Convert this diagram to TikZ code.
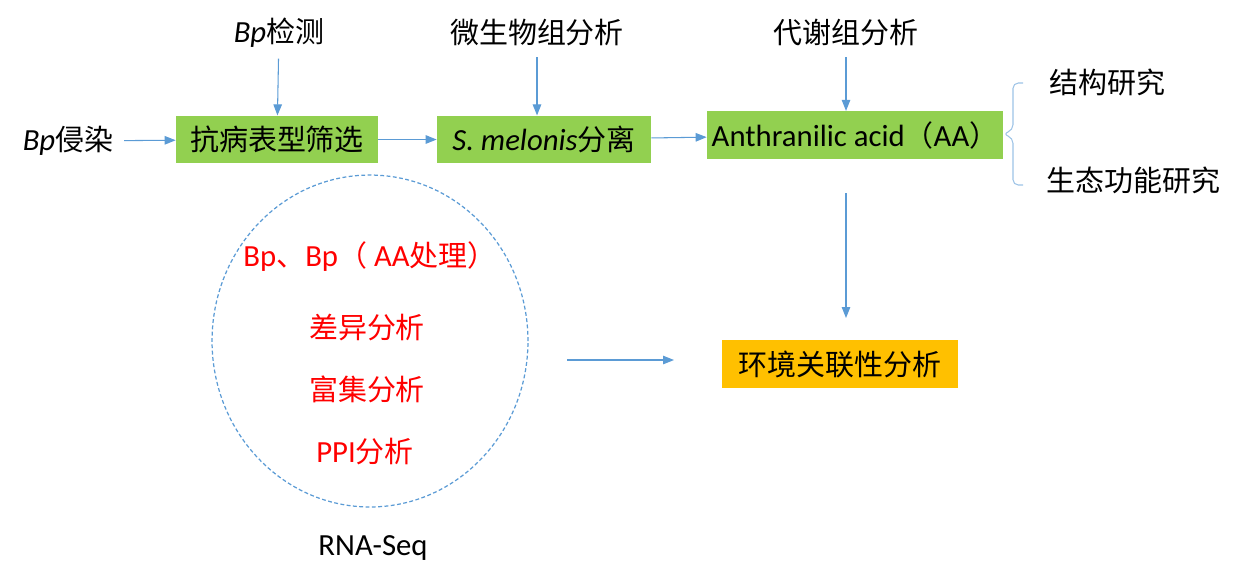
\documentclass[tikz,border=0pt]{standalone}
\usepackage{fontspec}
\setmainfont{Carlito}[Scale=1.06]
\newfontfamily\cjk{Noto Sans CJK SC}
\newcommand{\zh}[1]{{\cjk #1}}
\usepackage{tikz}
\usetikzlibrary{arrows.meta,shapes.geometric}
\definecolor{boxgreen}{HTML}{92D050}
\definecolor{boxorange}{HTML}{FFC000}
\definecolor{flowblue}{HTML}{5B9BD5}
\definecolor{bracblue}{HTML}{9DC3E6}

\begin{document}
\begin{tikzpicture}[
  x=0.02cm, y=-0.02cm,
  every node/.style={font=\fontsize{16.5}{19}\selectfont},
  proc/.style={fill=boxgreen, minimum height=0.95cm, inner sep=2pt},
  res/.style={fill=boxorange, minimum height=0.96cm, inner sep=2pt},
  lab/.style={inner sep=6pt},
  note/.style={text=red},
  flow/.style={draw=flowblue, line width=0.6pt},
  >={Triangle[length=2.2mm,width=1.7mm]}
]
\useasboundingbox (0,0) rectangle (1244,583);

% main row
\node[lab] (inf) at (68,141) {\textit{Bp}\zh{侵染}};
\node[proc, minimum width=4.04cm] (scr) at (277,139.5) {\zh{抗病表型筛选}};
\node[proc, minimum width=4.28cm] (iso) at (544,139.5) {\textit{S. melonis}\zh{分离}};
\node[proc, minimum width=5.92cm] (aa) at (855,135) {Anthranilic acid\zh{（}AA\zh{）}};

% inputs from above
\node[lab] (det) at (279,33) {\textit{Bp}\zh{检测}};
\node[lab] (mic) at (537,33) {\zh{微生物组分析}};
\node[lab] (met) at (846,33) {\zh{代谢组分析}};

% branches
\node[anchor=west] (str) at (1043,82) {\zh{结构研究}};
\node[anchor=west] (eco) at (1040,180) {\zh{生态功能研究}};

% RNA-Seq
\node[draw=flowblue, dashed, dash pattern=on 2.2pt off 1.4pt, line width=0.7pt, ellipse,
  minimum width=6.32cm, minimum height=6.64cm] (rna) at (370,341) {};
\node[note] (grp) at (370,257) {Bp\zh{、}Bp\zh{（} AA\zh{处理）}};
\node[note] (dif) at (367,327) {\zh{差异分析}};
\node[note] (enr) at (367,389) {\zh{富集分析}};
\node[note] (ppi) at (365,452) {PPI\zh{分析}};
\node (seq) at (373,548) {RNA-Seq};

\node[res, minimum width=4.74cm] (env) at (840,364) {\zh{环境关联性分析}};

\coordinate (d1) at (846,193);
\coordinate (d2) at (846,318);
\coordinate (h1) at (567,360);
\coordinate (h2) at (674,360);

\draw[flow,->] (inf) -- (scr);
\draw[flow,->] (scr) -- (iso);
\draw[flow,->] (iso) -- (aa);
\draw[flow,->] (det) -- (scr);
\draw[flow,->] (mic) -- (iso.north -| mic);
\draw[flow,->] (met) -- (aa.north -| met);
\draw[flow,->] (d1) -- (d2);
\draw[flow,->] (h1) -- (h2);

% brace
\draw[bracblue, line width=0.6pt, rounded corners=3pt]
  (1023,83) -- (1013,83) -- (1013,130) -- (1003,134) -- (1013,138) -- (1013,185) -- (1023,185);
\end{tikzpicture}
\end{document}
